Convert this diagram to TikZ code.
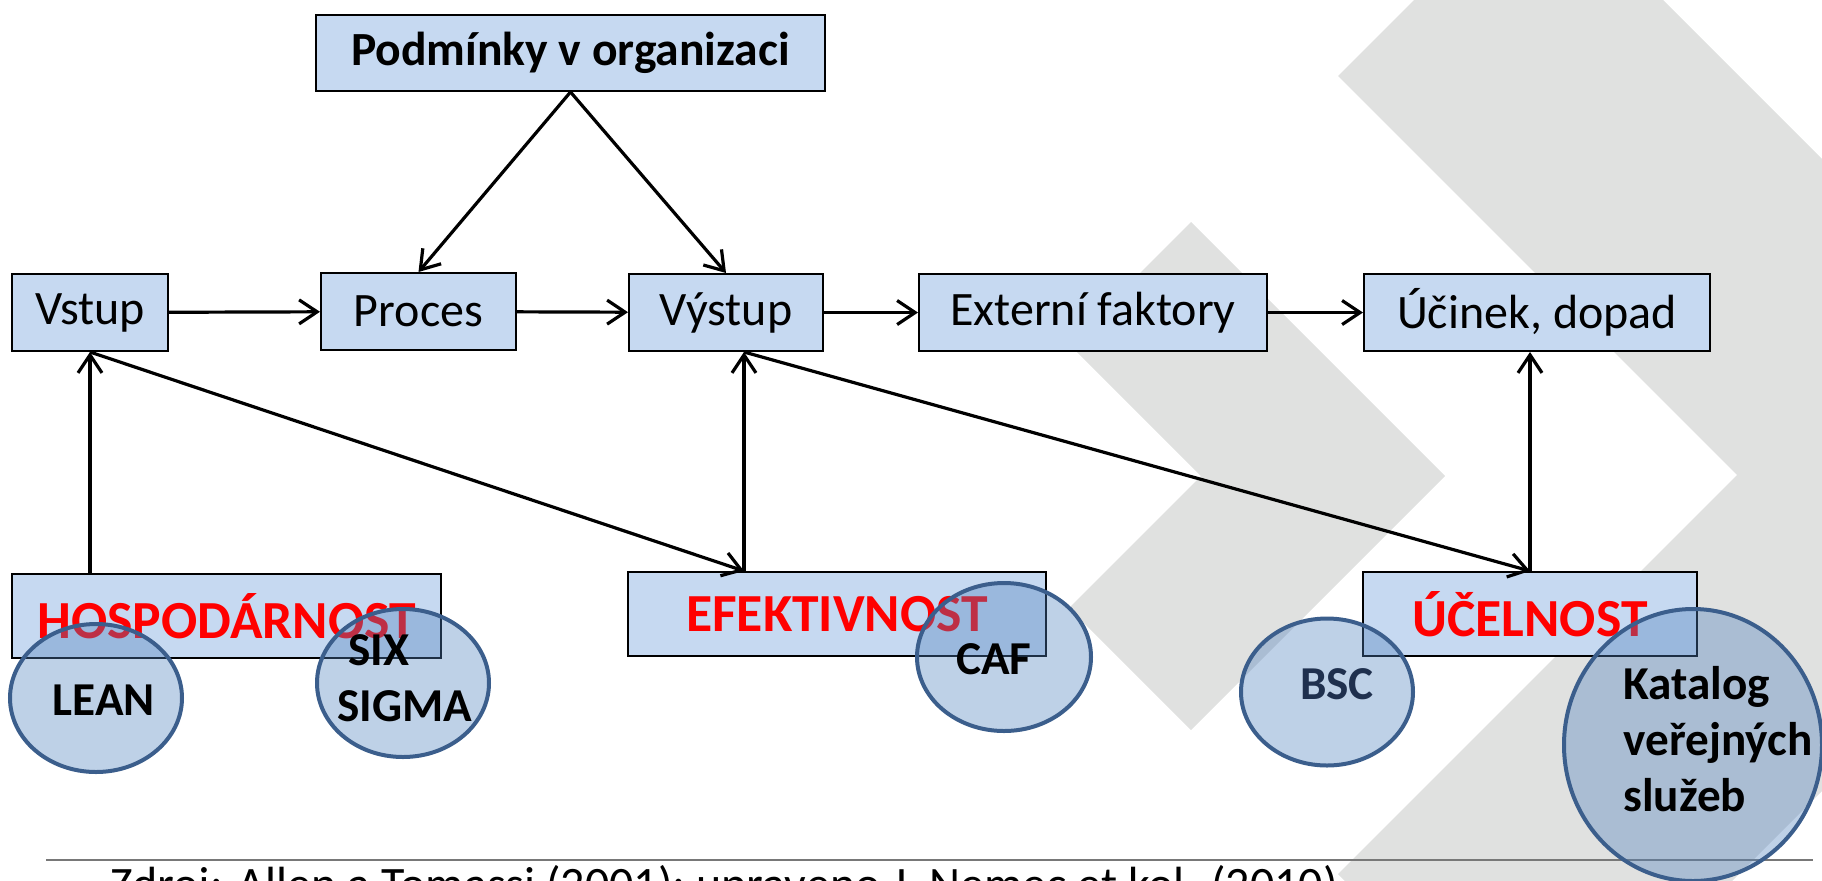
\documentclass[tikz,border=0pt]{standalone}
\usepackage{fontspec}
\setmainfont{Carlito}
\usetikzlibrary{shapes.geometric,arrows.meta}
\definecolor{boxblue}{RGB}{198,217,241}
\definecolor{ovalblue}{RGB}{79,129,189}
\definecolor{ovaledge}{RGB}{59,94,140}
\definecolor{chevron}{RGB}{224,225,224}
\definecolor{navytext}{RGB}{31,48,78}
\definecolor{rulegray}{RGB}{120,120,120}
\begin{document}
\begin{tikzpicture}[x=0.5pt,y=-0.5pt,
  box/.style={draw=black, line width=1pt, fill=boxblue, inner sep=0pt,
    minimum height=38.5pt, font=\fontsize{24}{28}\selectfont},
  goal/.style={box, minimum height=42pt, text=red,
    font=\bfseries\fontsize{26.8}{30}\selectfont},
  oval/.style={ellipse, draw=ovaledge, line width=2pt, fill=ovalblue,
    fill opacity=0.37, draw opacity=1, inner sep=0pt},
  ovaltext/.style={font=\bfseries\fontsize{23.6}{28}\selectfont, inner sep=0pt},
  arr/.style={line width=1.6pt, -{Straight Barb[length=9pt,width=12pt]}}
]
\useasboundingbox (0,0) rectangle (1822,880);
\clip (0,0) rectangle (1822,880);

% background chevrons
\fill[chevron] (1191,222) -- (1445,476) -- (1191,730) -- (1069,608)
  -- (1201,476) -- (1069,344) -- cycle;
\fill[chevron] (1338,76) -- (1538.5,-124.5) -- (2138,475) -- (1538.5,1074.5)
  -- (1338,874) -- (1737,475) -- cycle;

% source line
\coordinate (rl) at (46,860);
\coordinate (rr) at (1813,860);
\draw[rulegray, line width=1.3pt] (rl) -- (rr);
\node[anchor=base west, inner sep=0pt, font=\fontsize{24}{28}\selectfont]
  (src) at (110,900) {Zdroj: Allen a Tomassi (2001); upraveno J. Nemec et kol. (2010)};

% process chain
\node[box, minimum width=254.5pt, minimum height=38pt,
  font=\bfseries\fontsize{23.8}{28}\selectfont] (podm) at (570.5,53) {Podmínky v organizaci};
\node[box, minimum width=78pt]   (vstup)  at (90,312.5)   {Vstup};
\node[box, minimum width=97.5pt] (proces) at (418.5,311.5) {Proces};
\node[box, minimum width=97pt]   (vystup) at (726,312.5)  {Výstup};
\node[box, minimum width=174pt]  (ext)    at (1093,312.5) {Externí faktory};
\node[box, minimum width=173pt]  (ucinek) at (1537,312.5) {Účinek, dopad};

% criteria
\node[goal, minimum width=214.5pt] (hosp) at (226.5,616) {HOSPODÁRNOST};
\node[goal, minimum width=209pt]   (efe)  at (837,614)   {EFEKTIVNOST};
\node[goal, minimum width=167pt]   (ucel) at (1530,614)  {ÚČELNOST};

% connectors
\coordinate (ev) at ([xshift=9pt]vystup.south);
\draw[arr] (vstup) -- (proces);
\draw[arr] (proces) -- (vystup);
\draw[arr] (vystup) -- (ext);
\draw[arr] (ext) -- (ucinek);
\draw[arr] (podm.south) -- (proces.north);
\draw[arr] (podm.south) -- (vystup.north);
\draw[arr] (hosp.north -| vstup.south) -- (vstup.south);
\draw[arr] (vstup.south) -- (efe.north -| ev);
\draw[arr] (efe.north -| ev) -- (ev);
\draw[arr] (ev) -- (ucel.north);
\draw[arr] (ucel.north) -- (ucel.north |- ucinek.south);

% methods
\node[oval, minimum width=86pt, minimum height=74pt]  (lean) at (96,698) {};
\node[oval, minimum width=86pt, minimum height=74pt]  (six)  at (403,683) {};
\node[oval, minimum width=87pt, minimum height=74pt]  (caf)  at (1004,657) {};
\node[oval, minimum width=86pt, minimum height=73.5pt] (bsc) at (1327,692) {};
\node[oval, minimum width=129pt, minimum height=136pt] (kat) at (1693,745) {};

\node[ovaltext] (leant) at (104,700) {LEAN};
\node[ovaltext, align=center] (sixt) at (405,678) {SIX\rule{26pt}{0pt}\\SIGMA};
\node[ovaltext] (caft) at (994,659) {CAF};
\node[ovaltext, text=navytext] (bsct) at (1337,684) {BSC};
\node[ovaltext, align=left, anchor=west] (katt) at (1623,739) {Katalog\\veřejných\\služeb};
\end{tikzpicture}
\end{document}
